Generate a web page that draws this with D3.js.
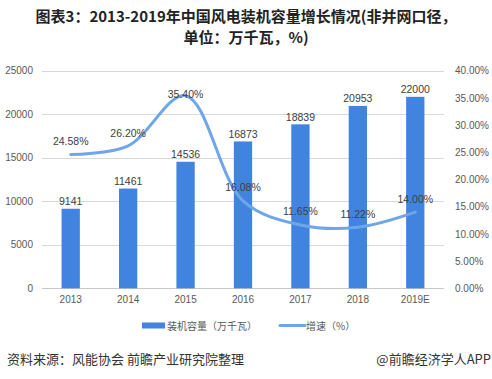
<!DOCTYPE html>
<html><head><meta charset="utf-8">
<script src="https://cdn.jsdelivr.net/npm/d3@7/dist/d3.min.js"></script>
<style>
body{margin:0;background:#fff;}
svg{display:block;}
</style></head>
<body><svg id="c" width="492" height="379"></svg>
<script>
(function(){
const categories = ["2013","2014","2015","2016","2017","2018","2019E"];
const capacity = [9141,11461,14536,16873,18839,20953,22000];
const growth = [24.58,26.20,35.40,16.08,11.65,11.22,14.00];
const leftTicks = [0,5000,10000,15000,20000,25000];
const rightTicks = [0,5,10,15,20,25,30,35,40];
const growthLabelOffset = [14,13,2,14,14,13,13];

const svg = d3.select("#c");
const W=492,H=379;
svg.append("rect").attr("width",W).attr("height",H).attr("fill","#fff");
const cjk = "'Noto Sans CJK SC','Noto Sans',sans-serif";
const num = "'Liberation Sans',Arial,sans-serif";

svg.append("text").attr("x",246).attr("y",22).attr("text-anchor","middle").attr("font-family",cjk)
  .attr("font-weight","bold").attr("font-size",15).attr("fill","#222")
  .text("图表3：2013-2019年中国风电装机容量增长情况(非并网口径，");
svg.append("text").attr("x",246).attr("y",43).attr("text-anchor","middle").attr("font-family",cjk)
  .attr("font-weight","bold").attr("font-size",15).attr("fill","#222")
  .text("单位：万千瓦，%)");

const pL=42,pR=444,pT=70.7,pB=288.3;
const x = d3.scaleBand().domain(categories).range([pL,pR]);
const y = d3.scaleLinear().domain([0,25000]).range([pB,pT]);
const y2 = d3.scaleLinear().domain([0,40]).range([pB,pT]);

svg.append("g").selectAll("line").data(leftTicks).join("line")
  .attr("x1",pL).attr("x2",pR).attr("y1",d=>Math.round(y(d))+0.5).attr("y2",d=>Math.round(y(d))+0.5)
  .attr("stroke",d=>d===0?"#c8c8c8":"#d9d9d9").attr("stroke-width",1);

const ga = svg.append("g").attr("transform",`translate(${pL-9},0)`)
  .call(d3.axisLeft(y).tickValues(leftTicks).tickSize(0).tickPadding(0).tickFormat(d3.format("d")));
ga.select(".domain").remove();
ga.selectAll("text").attr("font-family",num).attr("font-size",10).attr("fill","#595959");

const gr = svg.append("g").attr("transform",`translate(${pR+11},0)`)
  .call(d3.axisRight(y2).tickValues(rightTicks).tickSize(0).tickPadding(0).tickFormat(d=>d.toFixed(2)+"%"));
gr.select(".domain").remove();
gr.selectAll("text").attr("font-family",num).attr("font-size",10).attr("fill","#595959");

const gb = svg.append("g").attr("transform",`translate(0,${pB+8})`)
  .call(d3.axisBottom(x).tickSize(0).tickPadding(0));
gb.select(".domain").remove();
gb.selectAll("text").attr("font-family",num).attr("font-size",10).attr("fill","#595959");

const bw = 18.3;
svg.append("g").selectAll("rect").data(capacity).join("rect")
  .attr("x",(d,i)=>x(categories[i])+x.bandwidth()/2-bw/2)
  .attr("y",d=>y(d)).attr("width",bw).attr("height",d=>pB-y(d))
  .attr("fill","#4184e0");
svg.append("g").selectAll("text").data(capacity).join("text")
  .attr("x",(d,i)=>x(categories[i])+x.bandwidth()/2)
  .attr("y",d=>y(d)-3.5).attr("text-anchor","middle")
  .attr("font-family",num).attr("font-size",10.5).attr("fill","#404040").text(d=>d);

const line = d3.line().x((d,i)=>x(categories[i])+x.bandwidth()/2).y(d=>y2(d)).curve(d3.curveCatmullRom.alpha(0.5));
svg.append("path").datum(growth).attr("d",line).attr("fill","none")
  .attr("stroke","#6fa6ea").attr("stroke-width",3).attr("stroke-linecap","round");
svg.append("g").selectAll("text").data(growth).join("text")
  .attr("x",(d,i)=>x(categories[i])+x.bandwidth()/2)
  .attr("y",(d,i)=>y2(d)-growthLabelOffset[i]+4).attr("text-anchor","middle")
  .attr("font-family",num).attr("font-size",10.5).attr("fill","#404040").text(d=>d.toFixed(2)+"%");

const lg = svg.append("g");
lg.append("rect").attr("x",142).attr("y",322.5).attr("width",23).attr("height",6).attr("fill","#4184e0");
lg.append("text").attr("x",167).attr("y",329.5).attr("font-family",cjk).attr("font-size",10).attr("fill","#595959").text("装机容量（万千瓦）");
lg.append("line").attr("x1",280).attr("x2",305).attr("y1",325.5).attr("y2",325.5).attr("stroke","#6fa6ea").attr("stroke-width",3).attr("stroke-linecap","round");
lg.append("text").attr("x",306).attr("y",329.5).attr("font-family",cjk).attr("font-size",10).attr("fill","#595959").text("增速（%）");

svg.append("text").attr("x",7).attr("y",364).attr("font-family",cjk).attr("font-size",13).attr("fill","#333").text("资料来源：风能协会 前瞻产业研究院整理");
svg.append("text").attr("x",491).attr("y",364).attr("text-anchor","end").attr("font-family",cjk).attr("font-size",13).attr("fill","#333").text("@前瞻经济学人APP");
})();
</script></body></html>
